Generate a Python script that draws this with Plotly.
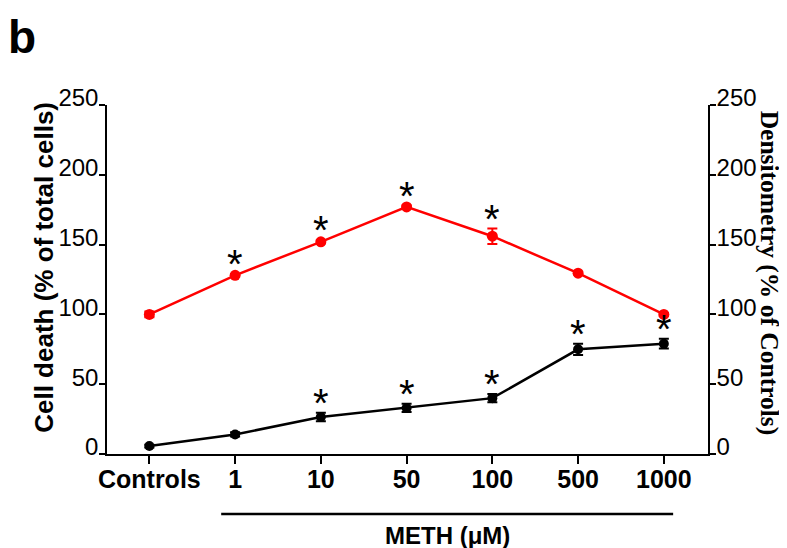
import plotly.graph_objects as go

categories = ["Controls", "1", "10", "50", "100", "500", "1000"]
cell_death = [5.7, 14, 26.5, 33, 40, 75, 79]
cell_death_err = [1, 1.5, 3, 3, 3, 4, 3.5]
densitometry = [100, 128, 152, 177, 156, 129.5, 100]
densitometry_err = [2, 1, 1, 1, 5.5, 1, 1]
sig_cell_death = [False, False, True, True, True, True, True]
sig_densitometry = [False, True, True, True, True, False, False]
y_ticks = [0, 50, 100, 150, 200, 250]

idx = list(range(len(categories)))

fig = go.Figure()
fig.add_trace(go.Scatter(
    x=idx, y=cell_death, mode="lines+markers",
    line=dict(color="black", width=2.5),
    marker=dict(color="black", size=10),
    error_y=dict(type="data", array=cell_death_err, color="black", thickness=2, width=5),
    showlegend=False, yaxis="y"))
fig.add_trace(go.Scatter(
    x=idx, y=densitometry, mode="lines+markers",
    line=dict(color="#ff0000", width=2.5),
    marker=dict(color="#ff0000", size=11),
    error_y=dict(type="data", array=densitometry_err, color="#ff0000", thickness=2, width=5),
    showlegend=False, yaxis="y2"))

star_font = dict(family="Arial", size=40, color="black")
ann = []
for i, (v, e, s) in enumerate(zip(cell_death, cell_death_err, sig_cell_death)):
    if s:
        ann.append(dict(x=i, y=v + e, xref="x", yref="y", text="*", showarrow=False,
                        font=star_font, yshift=10))
for i, (v, e, s) in enumerate(zip(densitometry, densitometry_err, sig_densitometry)):
    if s:
        ann.append(dict(x=i, y=v + e, xref="x", yref="y2", text="*", showarrow=False,
                        font=star_font, yshift=10))

ann += [
    dict(x=-0.168, y=1.275, xref="paper", yref="paper", xanchor="left", yanchor="top",
         text="<b>b</b>", showarrow=False, font=dict(family="Arial", size=46, color="black")),
    dict(x=-0.105, y=0.536, xref="paper", yref="paper", textangle=-90,
         xanchor="center", yanchor="middle",
         text="<b>Cell death (% of total cells)</b>", showarrow=False,
         font=dict(family="Arial", size=26, color="black")),
    dict(x=1.103, y=0.517, xref="paper", yref="paper", textangle=90,
         xanchor="center", yanchor="middle",
         text="<b>Densitometry (% of Controls)</b>", showarrow=False,
         font=dict(family="Liberation Serif, Times New Roman, serif", size=25.5, color="black")),
    dict(x=0.566, y=-0.234, xref="paper", yref="paper",
         xanchor="center", yanchor="middle",
         text="<b>METH (\u03bcM)</b>", showarrow=False,
         font=dict(family="Arial", size=24, color="black")),
]

axis_font = dict(family="Arial", size=24, color="black")

fig.update_layout(
    width=787, height=548,
    margin=dict(l=99, r=87.4, t=97, b=102.4, pad=0),
    paper_bgcolor="white", plot_bgcolor="white",
    xaxis=dict(range=[-0.494, 6.515], tickmode="array", tickvals=idx,
               ticktext=["<b>%s</b>" % c for c in categories], automargin=False,
               showgrid=False, zeroline=False, showline=True, linecolor="black", linewidth=1.5,
               ticks="outside", ticklen=8, tickwidth=1.5, tickcolor="black",
               ticklabelstandoff=-6, tickfont=dict(family="Arial", size=25, color="black")),
    yaxis=dict(range=[0, 250], tickvals=y_ticks, showgrid=False, zeroline=False, automargin=False,
               showline=True, linecolor="black", linewidth=1.5,
               ticks="outside", ticklen=6, tickwidth=1.5, tickcolor="black",
               ticklabelstandoff=-4, ticklabelshift=-7, tickfont=axis_font),
    yaxis2=dict(range=[0, 250], tickvals=y_ticks, overlaying="y", side="right", automargin=False,
                showgrid=False, zeroline=False,
                showline=True, linecolor="black", linewidth=1.5,
                ticks="outside", ticklen=6, tickwidth=1.5, tickcolor="black",
                ticklabelstandoff=-4, ticklabelshift=-7, tickfont=axis_font),
    annotations=ann,
    shapes=[dict(type="line", xref="paper", yref="paper", x0=0.19, x1=0.942,
                 y0=-0.172, y1=-0.172, line=dict(color="black", width=2.5))],
)

fig.write_html("out.html")
